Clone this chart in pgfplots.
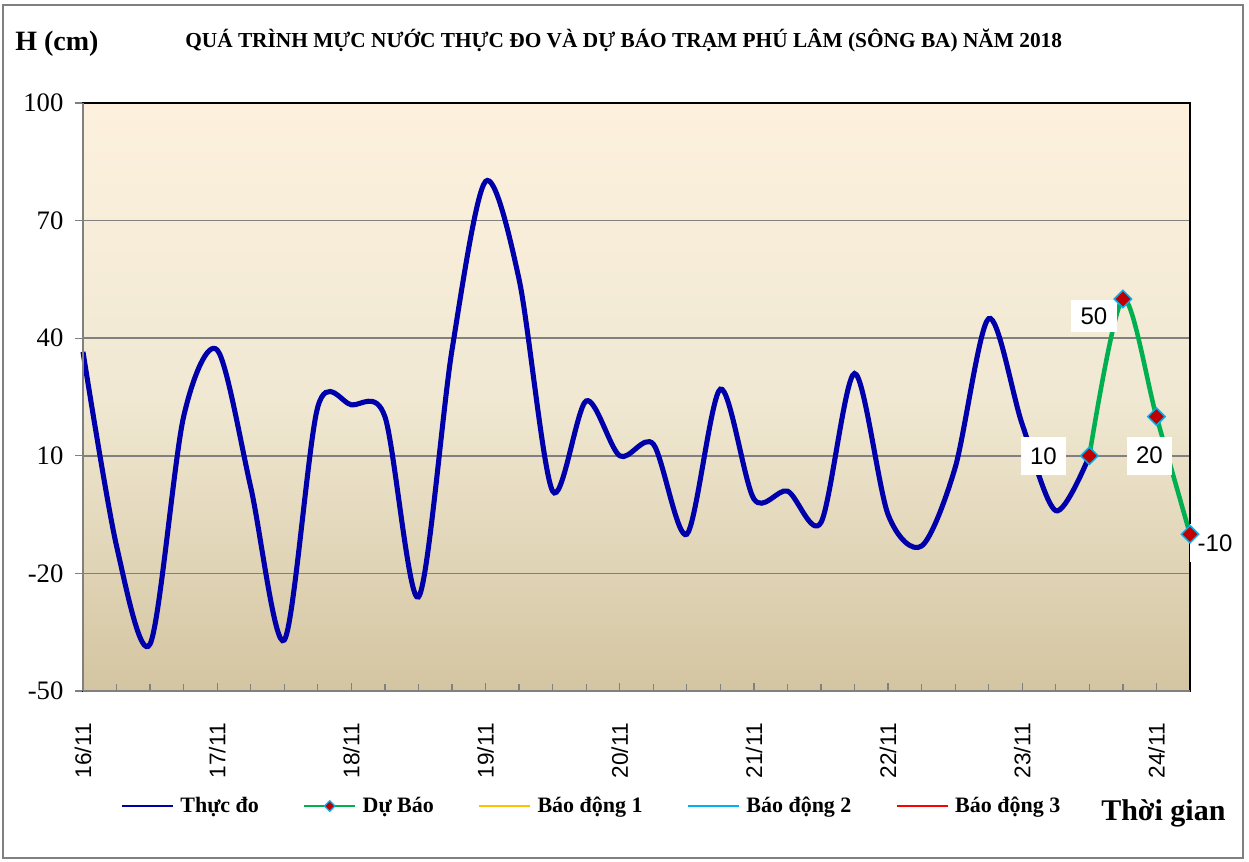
\documentclass[border=0pt]{standalone}
\usepackage{fontspec}
\setmainfont{Liberation Serif}
\setsansfont{Liberation Sans}
\usepackage{pgfplots}
\pgfplotsset{compat=1.18}
\definecolor{blueline}{RGB}{0,0,170}
\definecolor{greenline}{RGB}{0,176,80}
\definecolor{markred}{RGB}{192,0,0}
\definecolor{markcyan}{RGB}{0,176,240}
\definecolor{alarm1}{RGB}{255,192,0}
\definecolor{alarm2}{RGB}{0,176,240}
\definecolor{alarm3}{RGB}{255,0,0}
\definecolor{gridgray}{RGB}{128,128,128}
\definecolor{bgtop}{RGB}{253,241,222}
\definecolor{bgmid}{RGB}{240,232,210}
\definecolor{bgbot}{RGB}{212,197,161}
\pgfplotstableread{
x y
0 36.5
1 -13
2 -38
3 20
4 37
5 2
6 -37
7 22.5
8 23
9 20
10 -26
11 37
12 80
13 55
14 1
15 24
16 10
17 13
18 -10
19 27
20 -1
21 1
22 -7
23 31
24 -5
25 -13
26 7
27 45
28 18
29 -4
30 10
}\thucdo
\pgfplotstableread{
x y
30 10
31 50
32 20
33 -10
}\dubao
\begin{document}
\begin{tikzpicture}
\useasboundingbox (0,0) rectangle (936.75pt,-645.75pt);
\fill[white] (0,0) rectangle (936.75pt,-645.75pt);
\draw[color=gridgray, line width=1.5pt] (2.25pt,-3.75pt) rectangle (932.25pt,-643.5pt);
\node[anchor=base west, font=\bfseries\fontsize{21}{24}\selectfont, inner sep=0pt] at (11.25pt,-37.5pt) {H (cm)};
\node[anchor=base west, font=\bfseries\fontsize{16}{18}\selectfont, inner sep=0pt] at (138.75pt,-35.25pt) {QUÁ TRÌNH MỰC NƯỚC THỰC ĐO VÀ DỰ BÁO TRẠM PHÚ LÂM (SÔNG BA) NĂM 2018};
\node[anchor=base west, font=\bfseries\fontsize{22.5}{25}\selectfont, inner sep=0pt] at (825.75pt,-615pt) {Thời gian};
\begin{axis}[
  at={(62.25pt,-518.25pt)}, anchor=south west,
  width=830.25pt, height=441pt, scale only axis,
  xmin=0, xmax=33, ymin=-50, ymax=100,
  clip=false,
  axis background/.style={top color=bgtop, bottom color=bgbot, middle color=bgmid},
  axis line style={draw=black, line width=1.2pt},
  ymajorgrids, major grid style={gridgray, line width=1.1pt},
  ytick={-50,-20,10,40,70,100},
  yticklabels={-50,-20,10,40,70,100},
  xtick={0,4,...,32},
  xticklabels={16/11,17/11,18/11,19/11,20/11,21/11,22/11,23/11,24/11},
  minor xtick={0,...,33},
  xtick pos=bottom, ytick pos=left,
  tick align=inside,
  major tick length=6pt, minor tick length=5pt,
  tick style={gridgray, line width=0.9pt},
  y tick style={xshift=-6pt},
  yticklabel style={font=\fontsize{20}{22}\selectfont, anchor=east, inner sep=0pt, xshift=-14.5pt},
  xticklabel style={font=\sffamily\fontsize{17}{19}\selectfont, yshift=-24pt, rotate=90, anchor=east, inner sep=0pt},
  legend columns=5,
  legend style={at={(axis description cs:0.0338,-0.1956)}, anchor=west, draw=none, fill=none, inner sep=0pt,
    font=\bfseries\fontsize{16.5}{18}\selectfont,
    /tikz/every odd column/.append style={column sep=2.5pt},
    /tikz/every even column/.append style={column sep=31pt}},
  legend cell align=left,
  legend image code/.code={\draw[mark repeat=2, mark phase=2, #1, line width=2pt] plot coordinates {(0pt,0pt) (19.1pt,0pt) (38.25pt,0pt)};},
]
\addplot[forget plot, blueline, line width=3.8pt, smooth] table[x=x,y=y] {\thucdo};
\addplot[forget plot, greenline, line width=3.4pt, smooth, mark=square*, mark size=4.6pt,
  mark options={rotate=45, fill=markred, draw=markcyan, line width=1.1pt, solid}] table[x=x,y=y] {\dubao};
\draw[gridgray, line width=1.6pt] (rel axis cs:0,0) -- (rel axis cs:0,1);
\draw[gridgray, line width=1.6pt] (rel axis cs:0,0) -- (rel axis cs:1,0);
\begin{scope}[every node/.style={fill=white, font=\sffamily\fontsize{18}{20}\selectfont, inner sep=0pt, minimum width=34pt, minimum height=28.5pt}]
\node[xshift=-34.5pt] at (axis cs:30,10) {10};
\node[xshift=-21.75pt, yshift=-12.75pt, minimum height=24pt] at (axis cs:31,50) {50};
\node[xshift=-5.25pt, yshift=-29.25pt] at (axis cs:32,20) {20};
\node[xshift=18.75pt, yshift=-6.75pt, minimum width=37pt] at (axis cs:33,-10) {-10};
\end{scope}
\addlegendimage{blueline}
\addlegendentry{Thực đo}
\addlegendimage{greenline, mark=square*, mark size=2.8pt, mark options={rotate=45, fill=markred, draw=markcyan, line width=0.9pt}}
\addlegendentry{Dự Báo}
\addlegendimage{alarm1}
\addlegendentry{Báo động 1}
\addlegendimage{alarm2}
\addlegendentry{Báo động 2}
\addlegendimage{alarm3}
\addlegendentry{Báo động 3}
\end{axis}
\end{tikzpicture}
\end{document}
